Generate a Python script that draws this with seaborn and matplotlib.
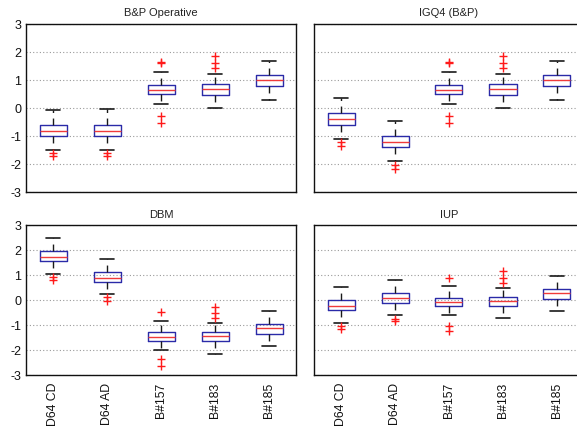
import numpy as np
import pandas as pd
import matplotlib
matplotlib.use("Agg")
import matplotlib.pyplot as plt
import seaborn as sns

categories = ["D64 CD", "D64 AD", "B#157", "B#183", "B#185"]
titles = ["B&P Operative", "IGQ4 (B&P)", "DBM", "IUP"]

# ---- B&P Operative ----
bpo_low = [-1.50, -1.50, 0.15, -0.01, 0.30]
bpo_q1 = [-1.00, -1.00, 0.51, 0.48, 0.77]
bpo_med = [-0.82, -0.82, 0.63, 0.68, 1.01]
bpo_q3 = [-0.60, -0.60, 0.83, 0.85, 1.18]
bpo_high = [-0.06, -0.05, 1.30, 1.20, 1.68]
bpo_out_cat = ["D64 CD", "D64 CD", "D64 AD", "D64 AD", "B#157", "B#157",
               "B#157", "B#157", "B#183", "B#183", "B#183"]
bpo_out_val = [-1.62, -1.72, -1.62, -1.72, 1.62, 1.66, -0.28, -0.52, 1.87, 1.61, 1.42]

# ---- IGQ4 (B&P) ----
igq_low = [-1.11, -1.89, 0.15, -0.01, 0.30]
igq_q1 = [-0.60, -1.39, 0.51, 0.48, 0.77]
igq_med = [-0.40, -1.21, 0.63, 0.68, 1.01]
igq_q3 = [-0.19, -0.99, 0.83, 0.85, 1.18]
igq_high = [0.35, -0.46, 1.30, 1.20, 1.68]
igq_out_cat = ["D64 CD", "D64 CD", "D64 AD", "D64 AD", "B#157", "B#157",
               "B#157", "B#157", "B#183", "B#183", "B#183"]
igq_out_val = [-1.23, -1.37, -2.02, -2.17, 1.62, 1.66, -0.28, -0.52, 1.87, 1.61, 1.42]

# ---- DBM ----
dbm_low = [1.05, 0.23, -2.00, -2.14, -1.84]
dbm_q1 = [1.55, 0.74, -1.63, -1.64, -1.34]
dbm_med = [1.73, 0.90, -1.48, -1.42, -1.13]
dbm_q3 = [1.95, 1.14, -1.28, -1.26, -0.94]
dbm_high = [2.48, 1.65, -0.84, -0.92, -0.45]
dbm_out_cat = ["D64 CD", "D64 CD", "D64 AD", "D64 AD", "B#157", "B#157",
               "B#157", "B#183", "B#183", "B#183"]
dbm_out_val = [0.93, 0.80, 0.13, -0.03, -0.48, -2.37, -2.64, -0.26, -0.53, -0.73]

# ---- IUP ----
iup_low = [-0.92, -0.61, -0.58, -0.73, -0.43]
iup_q1 = [-0.41, -0.11, -0.23, -0.23, 0.06]
iup_med = [-0.23, 0.09, -0.07, -0.03, 0.27]
iup_q3 = [-0.01, 0.29, 0.10, 0.13, 0.46]
iup_high = [0.52, 0.82, 0.57, 0.47, 0.96]
iup_out_cat = ["D64 CD", "D64 CD", "D64 AD", "D64 AD", "B#157", "B#157",
               "B#157", "B#183", "B#183", "B#183"]
iup_out_val = [-1.04, -1.17, -0.74, -0.85, 0.90, -1.04, -1.24, 1.16, 0.89, 0.70]

yticks = [-3, -2, -1, 0, 1, 2, 3]

sns.set_theme(style="ticks")
plt.rcParams["font.family"] = ["Liberation Sans", "DejaVu Sans"]
plt.rcParams["axes.unicode_minus"] = False
plt.rcParams["lines.scale_dashes"] = False

BOX = "#2a2aa8"
MED = "#f03a3a"
WHK = "#1a1a1a"
OUT = "#ff1a1a"


def box_frame(low, q1, med, q3, high):
    rows = []
    for c, a, b, m, d, e in zip(categories, low, q1, med, q3, high):
        for v in (a, b, m, d, e):
            rows.append((c, v))
    return pd.DataFrame(rows, columns=["group", "value"])


panels = [
    (box_frame(bpo_low, bpo_q1, bpo_med, bpo_q3, bpo_high), bpo_out_cat, bpo_out_val),
    (box_frame(igq_low, igq_q1, igq_med, igq_q3, igq_high), igq_out_cat, igq_out_val),
    (box_frame(dbm_low, dbm_q1, dbm_med, dbm_q3, dbm_high), dbm_out_cat, dbm_out_val),
    (box_frame(iup_low, iup_q1, iup_med, iup_q3, iup_high), iup_out_cat, iup_out_val),
]

W, H = 577, 431
fig = plt.figure(figsize=(W / 100, H / 100), dpi=100)
fig.patch.set_facecolor("white")
rects_px = [(26, 25, 270, 168), (314, 25, 270, 168), (26, 226, 270, 150), (314, 226, 270, 150)]
title_pads = [6.8, 6.8, 5.8, 5.8]

for i, ((df, oc, ov), (x0, y0, w, h)) in enumerate(zip(panels, rects_px)):
    ax = fig.add_axes([x0 / W, 1 - (y0 + h) / H, w / W, h / H])
    ax.set_facecolor("white")
    ax.set_axisbelow(True)
    ax.yaxis.grid(True, color="#9a9a9a", linestyle=(0, (0.8, 1.6)), linewidth=0.8)
    sns.boxplot(data=df, x="group", y="value", order=categories, ax=ax,
                whis=np.inf, width=0.5, fill=False, color=BOX, linewidth=1.0,
                showfliers=False,
                boxprops=dict(color=BOX, linewidth=1.0),
                medianprops=dict(color=MED, linewidth=1.0),
                whiskerprops=dict(color=WHK, linewidth=1.0, linestyle=(0, (5, 4))),
                capprops=dict(color=WHK, linewidth=1.2))
    out_df = pd.DataFrame({"group": oc, "value": ov})
    sns.stripplot(data=out_df, x="group", y="value", order=categories, ax=ax,
                  jitter=False, marker="+", color=OUT, size=5.5, linewidth=1.0)
    ax.set_xlim(-0.5, 4.5)
    ax.set_ylim(-3, 3)
    ax.set_yticks(yticks)
    ax.set_yticklabels([str(t) for t in yticks])
    ax.set_xlabel("")
    ax.set_ylabel("")
    ax.set_title(titles[i], fontsize=8, color="#222222", pad=title_pads[i])
    for s in ax.spines.values():
        s.set_visible(True)
        s.set_color("#111111")
        s.set_linewidth(1.0)
    ax.tick_params(axis="y", direction="in", length=0, labelsize=9, pad=3.5, colors="#111111")
    ax.tick_params(axis="x", direction="in", length=0, labelsize=8.8, pad=5, colors="#111111")
    ax.set_xticks(range(len(categories)))
    if i < 2:
        ax.set_xticklabels([])
    else:
        ax.set_xticklabels(categories, rotation=90)
    if i % 2 == 1:
        ax.set_yticklabels([])

fig.savefig("out.png", dpi=100)
